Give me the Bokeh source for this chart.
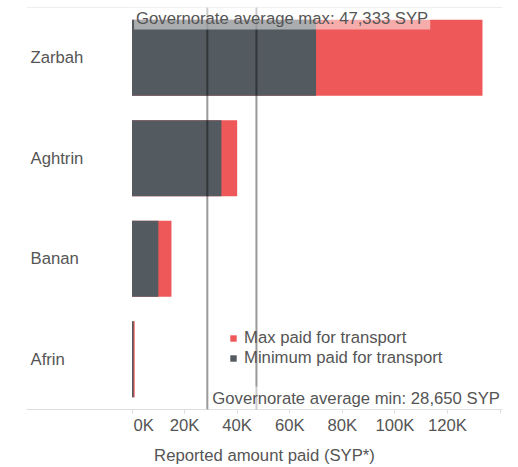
from bokeh.plotting import figure
from bokeh.models import Range1d, FactorRange, FixedTicker, Span, Label, ColumnDataSource
from bokeh.core.properties import value
from bokeh.embed import file_html
from bokeh.resources import INLINE

# ---- data ----
districts = ["Zarbah", "Aghtrin", "Banan", "Afrin"]
max_paid = [133333, 40000, 15000, 1000]
min_paid = [70000, 34000, 10000, 600]
tick_values = [0, 20000, 40000, 60000, 80000, 100000, 120000, 140000]
tick_labels = ["\u00a0\u00a0\u00a0\u00a0\u00a00K", "20K", "40K", "60K", "80K", "100K", "120K", ""]
legend_labels = ["Max paid for transport", "Minimum paid for transport"]

avg_max = sum(max_paid) / len(max_paid)
avg_min = sum(min_paid) / len(min_paid)

FONT = "Liberation Sans"
FS = "16.7px"
TXT = "#555555"
RED = "#ee5859"
DARK = "#535a60"
LIGHT = "#dddddd"
X0, X1 = -40150, 140950

p = figure(
    y_range=FactorRange(factors=list(reversed(districts))),
    x_range=Range1d(X0, X1),
    frame_width=476, frame_height=402,
    min_border_left=26, min_border_right=16, min_border_top=0, min_border_bottom=0,
    margin=(7, 0, 0, 0),
    output_backend="svg", toolbar_location=None,
)

src = ColumnDataSource(dict(district=districts, max_paid=max_paid, min_paid=min_paid))
p.hbar(y="district", left=0, right="max_paid", height=0.756, source=src,
       fill_color=RED, line_color=None, legend_label=legend_labels[0])
p.hbar(y="district", left=0, right="min_paid", height=0.756, source=src,
       fill_color=DARK, line_color=None, legend_label=legend_labels[1])

p.text(x=X0, y="district", text="district", source=src, x_offset=4,
       text_align="left", text_baseline="middle", text_font=value(FONT),
       text_font_size=FS, text_color=TXT)

p.add_layout(Span(location=4, dimension="width", line_color=LIGHT, line_width=1))
for avg in (avg_min, avg_max):
    p.add_layout(Span(location=avg, dimension="height", line_color="black",
                      line_alpha=0.4, line_width=2))

p.add_layout(Label(x=0, y=4, x_units="data", y_units="data", x_offset=2, y_offset=1,
                   text=f"Governorate average max: {avg_max:,.0f} SYP",
                   text_align="left", text_baseline="top", text_font=FONT,
                   text_font_size=FS, text_color=TXT, background_fill_color="white",
                   background_fill_alpha=0.5, padding=2))
p.add_layout(Label(x=avg_min, y=0, x_units="data", y_units="data", x_offset=3, y_offset=0,
                   text=f"Governorate average min: {avg_min:,.0f} SYP",
                   text_align="left", text_baseline="bottom", text_font=FONT,
                   text_font_size=FS, text_color=TXT, background_fill_color="white",
                   background_fill_alpha=0.5, padding=2))
p.add_layout(Label(x=-26, y=-41, x_units="screen", y_units="screen", text="d",
                   text_align="right", x_offset=7, text_baseline="middle", text_font=FONT,
                   text_font_size="11px", text_color=TXT))

ax = p.xaxis[0]
ax.ticker = FixedTicker(ticks=tick_values)
ax.major_label_overrides = {v: l for v, l in zip(tick_values, tick_labels)}
ax.axis_label = "Reported amount paid (SYP*)"
ax.axis_label_text_font = FONT
ax.axis_label_text_font_size = FS
ax.axis_label_text_font_style = "normal"
ax.axis_label_text_color = TXT
ax.major_label_text_font = FONT
ax.major_label_text_font_size = FS
ax.major_label_text_color = TXT
ax.axis_line_color = LIGHT
ax.major_tick_line_color = LIGHT
ax.major_tick_out = 4
ax.major_tick_in = 0
ax.minor_tick_line_color = None
ax.major_label_standoff = 2
ax.axis_label_standoff = 8

p.yaxis.visible = False
p.xgrid.visible = False
p.ygrid.visible = False
p.outline_line_color = None

leg = p.legend[0]
leg.location = (203, 41)
leg.glyph_width = 8
leg.glyph_height = 8
leg.label_standoff = 7
leg.spacing = 0
leg.padding = 0
leg.margin = 0
leg.label_height = 19
leg.background_fill_alpha = 0
leg.border_line_alpha = 0
leg.label_text_font = FONT
leg.label_text_font_size = FS
leg.label_text_color = TXT

open("out.html", "w").write(file_html(p, INLINE))
